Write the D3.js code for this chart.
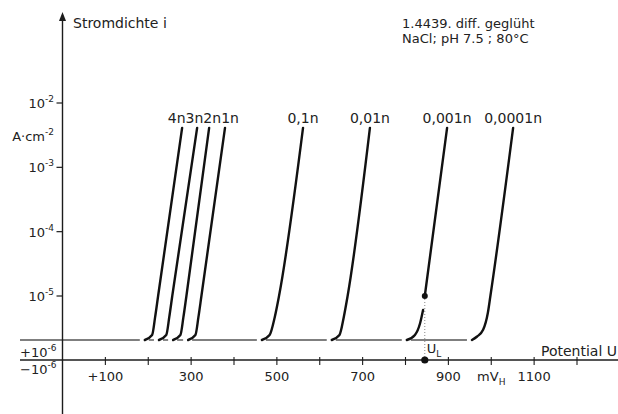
<!DOCTYPE html>
<html>
<head>
<meta charset="utf-8">
<script src="https://cdn.jsdelivr.net/npm/d3@7/dist/d3.min.js"></script>
<style>
    body { margin: 0; background: #fff; }
    svg { display: block; font-family: "DejaVu Sans", "Liberation Sans", Arial, sans-serif; fill: #222; }
</style>
</head>
<body>
<svg id="chart" width="618" height="414"></svg>
<script>
/* data */

// concentration of each curve (NaCl), read left to right
var concentrations = ['4n', '3n', '2n', '1n', '0,1n', '0,01n', '0,001n', '0,0001n'];

// [potential mV_H, current density A/cm2]
var curve4n = [[192, 1e-6], [209, 1.3e-6], [216, 3.3e-6], [223, 1e-5], [279, 4.1e-3]];
var curve3n = [[225, 1e-6], [242, 1.3e-6], [249, 3.3e-6], [256, 1e-5], [314, 4.1e-3]];
var curve2n = [[258, 1e-6], [275, 1.3e-6], [282, 3.3e-6], [289, 1e-5], [342, 4.1e-3]];
var curve1n = [[293, 1e-6], [310, 1.3e-6], [317, 3.3e-6], [324, 1e-5], [379, 4.1e-3]];
var curve01n = [[465, 1e-6], [483, 1.3e-6], [495, 3.3e-6], [505, 1e-5], [561, 4.1e-3]];
var curve001n = [[628, 1e-6], [646, 1.3e-6], [656, 3.3e-6], [665, 1e-5], [717, 4.1e-3]];
var curve0001n = [[803, 1e-6], [822, 1.3e-6], [834, 2.4e-6], [841, 4.8e-6], null, [845, 1e-5], [897, 4.1e-3]];
var curve00001n = [[955, 1e-6], [967, 1.2e-6], [981, 1.7e-6], [992, 4.1e-6], [998, 1e-5], [1051, 4.1e-3]];

var curves = [curve4n, curve3n, curve2n, curve1n, curve01n, curve001n, curve0001n, curve00001n];

// passive current line and the pitting potential U_L
var passiveCurrent = 1e-6;
var potentialUL = 845;
var currentUL = 1e-5;

// axis ticks
var yTickValues = [1e-2, 1e-3, 1e-4, 1e-5];
var yTickExponents = ['-2', '-3', '-4', '-5'];
var xTickValues = [100, 200, 300, 400, 500, 600, 700, 800, 900, 1000, 1100, 1200];
var xLabelValues = [100, 300, 500, 700, 900, 1100];
var xLabelTexts = ['+100', '300', '500', '700', '900', '1100'];
var unitValue = 1000;

(function drawPittingChart() {
    'use strict';

    var svg = d3.select('#chart');
    var ink = '#1c1c1c';

    /* scales */

    var x = d3.scaleLinear()
        .domain([0, 1200])
        .range([62.5, 577])
    ;

    // log scale, compressed between the passive line and 10^-5
    var y = d3.scaleLog()
        .domain([1e-6, 1e-5, 1e-2])
        .range([340, 296, 103])
    ;

    var zeroY = 360; // i = 0 line (potential axis)
    var left = 20;

    /* passive baseline, broken where each curve starts */

    var hooks = curves.map(function (c) { return x(c[0][0]); });
    var segments = [];
    var start = left;
    hooks.forEach(function (h) {
        segments.push([start, h - 5]);
        start = h + 4;
    });

    svg.append('g')
        .selectAll('line')
        .data(segments)
        .enter()
        .append('line')
        .attr('x1', function (d) { return d[0]; })
        .attr('x2', function (d) { return d[1]; })
        .attr('y1', y(passiveCurrent))
        .attr('y2', y(passiveCurrent))
        .attr('stroke', '#555')
        .attr('stroke-width', 1.4)
    ;

    /* axes */

    // --- potential axis
    svg.append('line')
        .attr('x1', left).attr('x2', 618)
        .attr('y1', zeroY).attr('y2', zeroY)
        .attr('stroke', ink).attr('stroke-width', 1.4)
    ;

    svg.append('g')
        .selectAll('line')
        .data(xTickValues)
        .enter()
        .append('line')
        .attr('x1', function (d) { return x(d); })
        .attr('x2', function (d) { return x(d); })
        .attr('y1', zeroY - 3)
        .attr('y2', zeroY + 5)
        .attr('stroke', ink)
        .attr('stroke-width', 1.1)
    ;

    svg.append('g')
        .selectAll('text')
        .data(xLabelValues)
        .enter()
        .append('text')
        .attr('x', function (d) { return x(d); })
        .attr('y', 381)
        .attr('text-anchor', 'middle')
        .attr('font-size', 13)
        .text(function (d, i) { return xLabelTexts[i]; })
    ;

    var unit = svg.append('text')
        .attr('x', x(unitValue))
        .attr('y', 381)
        .attr('text-anchor', 'middle')
        .attr('font-size', 13)
        .text('mV')
    ;
    unit.append('tspan').attr('dy', 4).attr('font-size', 9).text('H');

    svg.append('text')
        .attr('x', 617)
        .attr('y', 356)
        .attr('text-anchor', 'end')
        .attr('font-size', 14)
        .text('Potential U')
    ;

    // --- current axis
    svg.append('line')
        .attr('x1', x(0)).attr('x2', x(0))
        .attr('y1', 18).attr('y2', 414)
        .attr('stroke', ink).attr('stroke-width', 1.4)
    ;

    svg.append('path')
        .attr('d', d3.line()([[x(0) - 3.5, 21], [x(0), 12], [x(0) + 3.5, 21]]) + 'Z')
        .attr('fill', ink)
    ;

    svg.append('text')
        .attr('x', 73)
        .attr('y', 28)
        .attr('font-size', 14)
        .text('Stromdichte i')
    ;

    svg.append('g')
        .selectAll('line')
        .data(yTickValues)
        .enter()
        .append('line')
        .attr('x1', x(0) - 6)
        .attr('x2', x(0))
        .attr('y1', function (d) { return y(d); })
        .attr('y2', function (d) { return y(d); })
        .attr('stroke', ink)
        .attr('stroke-width', 1.2)
    ;

    var yLabels = svg.append('g')
        .selectAll('text')
        .data(yTickValues)
        .enter()
        .append('text')
        .attr('x', 54)
        .attr('y', function (d) { return y(d) + 5; })
        .attr('text-anchor', 'end')
        .attr('font-size', 13)
        .text('10')
    ;
    yLabels.append('tspan')
        .attr('dy', -6)
        .attr('font-size', 9)
        .text(function (d, i) { return yTickExponents[i]; })
    ;

    var unitY = svg.append('text')
        .attr('x', 54)
        .attr('y', 141)
        .attr('text-anchor', 'end')
        .attr('font-size', 13)
        .text('A·cm')
    ;
    unitY.append('tspan').attr('dy', -6).attr('font-size', 9).text('-2');

    // +10^-6 / -10^-6 around the zero line
    [['+10', y(passiveCurrent) + 17], ['\u221210', zeroY + 14]].forEach(function (p) {
        var t = svg.append('text')
            .attr('x', left)
            .attr('y', p[1])
            .attr('font-size', 13)
            .text(p[0])
        ;
        t.append('tspan').attr('dy', -6).attr('font-size', 9).text('-6');
    });

    /* curves */

    var line = d3.line()
        .defined(function (d) { return d !== null; })
        .x(function (d) { return x(d[0]); })
        .y(function (d) { return y(d[1]); })
        .curve(d3.curveMonotoneX)
    ;

    svg.append('g')
        .selectAll('path')
        .data(curves)
        .enter()
        .append('path')
        .attr('d', line)
        .attr('fill', 'none')
        .attr('stroke', '#111')
        .attr('stroke-width', 2.4)
        .attr('stroke-linecap', 'round')
    ;

    // --- curve labels, pushed apart where they would overlap
    var labels = svg.append('g')
        .selectAll('text')
        .data(curves)
        .enter()
        .append('text')
        .attr('text-anchor', 'middle')
        .attr('font-size', 14)
        .attr('y', function (d) { return y(d[d.length - 1][1]) - 5; })
        .text(function (d, i) { return concentrations[i]; })
    ;

    var pos = curves.map(function (d) { return x(d[d.length - 1][0]); });
    var widths = labels.nodes().map(function (n) { return n.getComputedTextLength(); });
    for (var k = 0; k < 200; k++) {
        for (var i = 1; i < pos.length; i++) {
            var overlap = (pos[i - 1] + widths[i - 1] / 2) - (pos[i] - widths[i] / 2);
            if (overlap > 0) {
                pos[i - 1] -= overlap / 2;
                pos[i] += overlap / 2;
            }
        }
    }
    labels.attr('x', function (d, i) { return pos[i]; });

    /* pitting potential U_L */

    svg.append('line')
        .attr('x1', x(potentialUL)).attr('x2', x(potentialUL))
        .attr('y1', y(currentUL)).attr('y2', zeroY)
        .attr('stroke', '#888')
        .attr('stroke-width', 1)
        .attr('stroke-dasharray', '1,2')
    ;

    svg.append('circle')
        .attr('cx', x(potentialUL)).attr('cy', y(currentUL)).attr('r', 3)
        .attr('fill', '#111')
    ;
    svg.append('circle')
        .attr('cx', x(potentialUL)).attr('cy', zeroY).attr('r', 3.6)
        .attr('fill', '#111')
    ;

    var ul = svg.append('text')
        .attr('x', x(potentialUL) + 2)
        .attr('y', 353)
        .attr('font-size', 13)
        .text('U')
    ;
    ul.append('tspan').attr('dy', 4).attr('font-size', 9).text('L');

    /* annotation */

    svg.append('text')
        .attr('x', 402)
        .attr('y', 28)
        .attr('font-size', 13)
        .text('1.4439. diff. geglüht')
    ;
    svg.append('text')
        .attr('x', 402)
        .attr('y', 43)
        .attr('font-size', 13)
        .text('NaCl; pH 7.5 ; 80°C')
    ;
})();
</script>
</body>
</html>
